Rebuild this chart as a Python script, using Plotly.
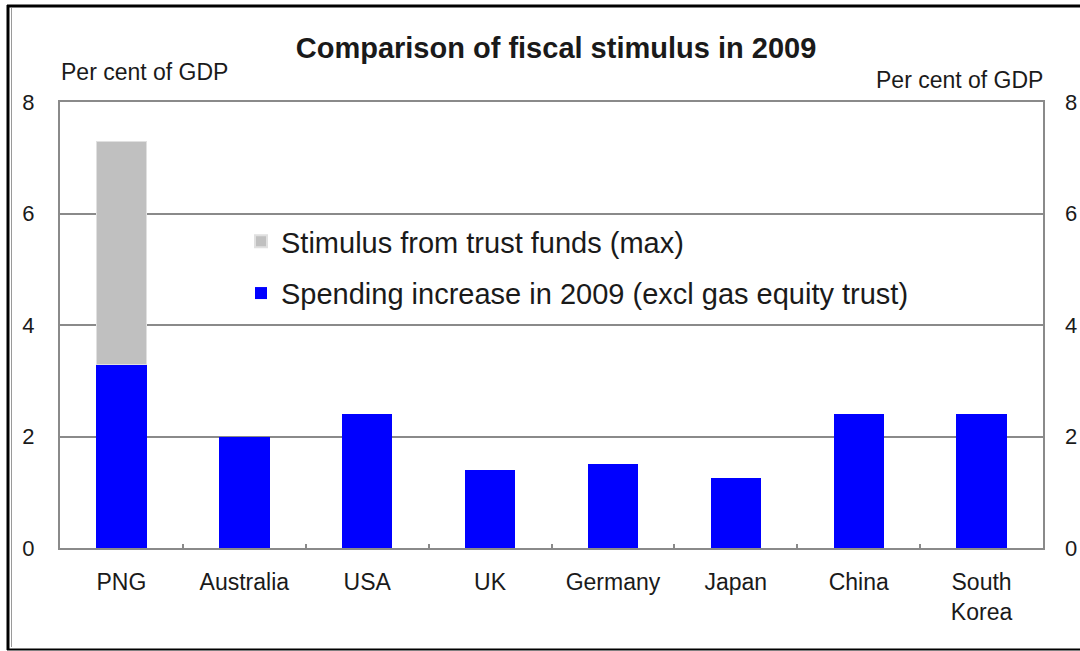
import plotly.graph_objects as go

categories = ["PNG", "Australia", "USA", "UK", "Germany", "Japan", "China", "South<br>Korea"]
spending_2009 = [3.3, 2.0, 2.4, 1.4, 1.5, 1.25, 2.4, 2.4]
trust_funds = [4.0, None, None, None, None, None, None, None]
y_ticks = [0, 2, 4, 6, 8]

W, H = 1080, 651
L, R, T, B = 60, 1043, 102, 548

def px(x):
    return (x - L) / (R - L)

def py(y):
    return (B - y) / (B - T)

FONT = "Liberation Sans, Arial, sans-serif"
TXT = "#1a1a1a"
GRID = "#8a8a8a"

fig = go.Figure()
fig.add_trace(go.Bar(
    x=categories, y=spending_2009, name="Spending increase in 2009 (excl gas equity trust)",
    marker=dict(color="#0000ff", line=dict(width=0)), width=0.41, legendgroup="b", legendrank=2,
))
fig.add_trace(go.Bar(
    x=categories, y=trust_funds, name="Stimulus from trust funds (max)",
    marker=dict(color="#c0c0c0", line=dict(color="#e0e0e0", width=1)), width=0.41,
    legendgroup="a", legendrank=1,
))
# invisible trace to drive the right axis
fig.add_trace(go.Scatter(x=categories, y=[None] * len(categories), yaxis="y2",
                         showlegend=False, hoverinfo="skip"))

fig.update_layout(
    width=W, height=H,
    margin=dict(l=L, r=W - R, t=T, b=H - B, autoexpand=False),
    paper_bgcolor="#ffffff", plot_bgcolor="#ffffff",
    barmode="stack", bargap=0.59,
    font=dict(family=FONT, color=TXT, size=22),
    title=dict(text="<b>Comparison of fiscal stimulus in 2009</b>", x=556 / W, xanchor="center",
               y=1 - 48 / H, yanchor="middle", font=dict(size=29, family=FONT, color=TXT)),
    showlegend=True,
    legend=dict(x=px(241), y=py(216), xanchor="left", yanchor="top",
                traceorder="grouped", tracegroupgap=11,
                bgcolor="rgba(0,0,0,0)", font=dict(size=29, family=FONT, color=TXT),
                itemsizing="constant"),
    xaxis=dict(
        type="category", showgrid=False, showline=True, linecolor=GRID, linewidth=2,
        mirror=True, ticks="inside", tickson="boundaries", ticklen=4, tickcolor=GRID,
        tickwidth=1.5, ticklabelstandoff=12, tickfont=dict(size=23, family=FONT, color=TXT),
        range=[-0.5, len(categories) - 0.5],
    ),
    yaxis=dict(
        range=[0, 8], tickvals=y_ticks, showgrid=True, gridcolor=GRID, gridwidth=1.5,
        showline=True, linecolor=GRID, linewidth=2, mirror=True, ticks="",
        ticklabelstandoff=19, zeroline=False, tickfont=dict(size=22, family=FONT, color=TXT),
    ),
    yaxis2=dict(
        range=[0, 8], tickvals=y_ticks, overlaying="y", side="right", showgrid=False,
        showline=False, ticks="", ticklabelstandoff=21, zeroline=False,
        tickfont=dict(size=22, family=FONT, color=TXT),
    ),
    annotations=[
        dict(text="Per cent of GDP", x=px(59), y=py(72), xref="paper", yref="paper",
             xanchor="left", yanchor="middle", showarrow=False,
             font=dict(size=23, family=FONT, color=TXT)),
        dict(text="Per cent of GDP", x=px(1045), y=py(80), xref="paper", yref="paper",
             xanchor="right", yanchor="middle", showarrow=False,
             font=dict(size=23, family=FONT, color=TXT)),
    ],
    shapes=[
        dict(type="line", xref="paper", yref="paper", x0=px(8), x1=px(8), y0=py(5), y1=py(650),
             line=dict(color="#000000", width=3)),
        dict(type="line", xref="paper", yref="paper", x0=px(11.5), x1=px(11.5), y0=py(8), y1=py(647),
             line=dict(color="#9a9a9a", width=1)),
        dict(type="line", xref="paper", yref="paper", x0=px(7), x1=px(1080), y0=py(6), y1=py(6),
             line=dict(color="#000000", width=3)),
        dict(type="line", xref="paper", yref="paper", x0=px(7), x1=px(1080), y0=py(649.5), y1=py(649.5),
             line=dict(color="#000000", width=2)),
    ],
)

fig.write_html("out.html")
